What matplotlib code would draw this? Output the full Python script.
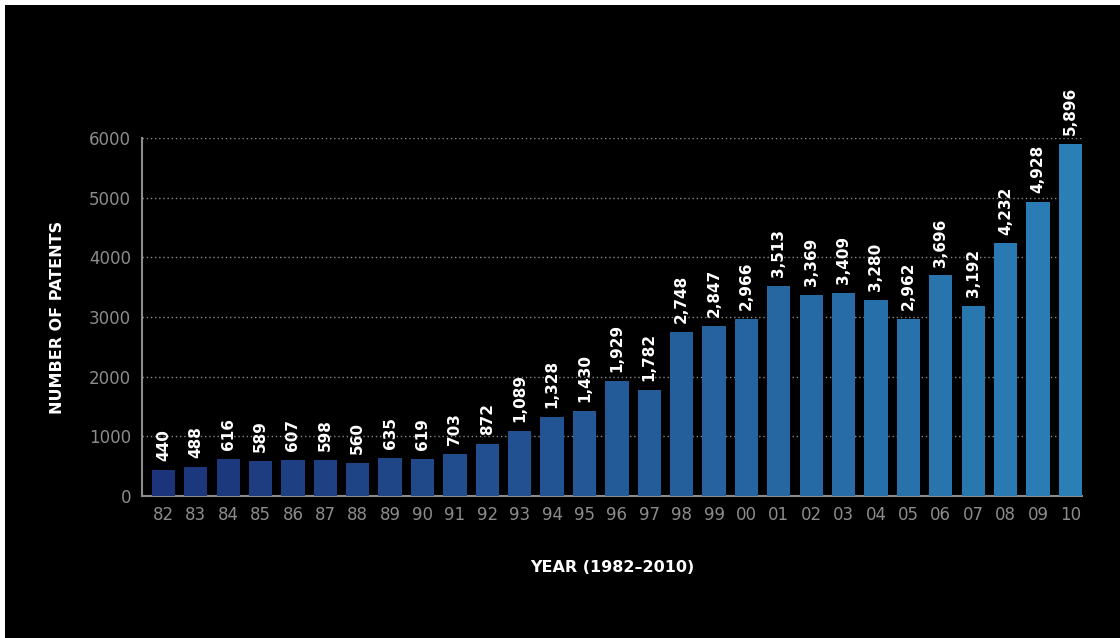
import matplotlib.pyplot as plt
import matplotlib.colors as mcolors
import numpy as np
from matplotlib.patches import Rectangle

years = ["82", "83", "84", "85", "86", "87", "88", "89", "90", "91", "92", "93", "94", "95",
         "96", "97", "98", "99", "00", "01", "02", "03", "04", "05", "06", "07", "08", "09", "10"]
patents = [440, 488, 616, 589, 607, 598, 560, 635, 619, 703, 872, 1089, 1328, 1430,
           1929, 1782, 2748, 2847, 2966, 3513, 3369, 3409, 3280, 2962, 3696, 3192, 4232, 4928, 5896]
yticks = [0, 1000, 2000, 3000, 4000, 5000, 6000]

plt.rcParams['font.family'] = ['DejaVu Sans']

fig = plt.figure(figsize=(11.2, 6.38), dpi=100)
fig.patch.set_facecolor('white')
# black panel, leaving the thin white strip on top and left
fig.patches.append(Rectangle((5 / 1120, 0), 1 - 5 / 1120, 1 - 5 / 638,
                             transform=fig.transFigure, facecolor='black',
                             edgecolor='none', zorder=-10))

ax = fig.add_axes([142 / 1120, 142 / 638, 940 / 1120, 358 / 638])
ax.set_facecolor('black')

# colour ramp from navy to lighter blue across the bars
c0 = np.array(mcolors.to_rgb('#1c3479'))
c1 = np.array(mcolors.to_rgb('#2a7fb6'))
n = len(years)
barColors = [c0 + (c1 - c0) * i / (n - 1) for i in range(n)]

x = np.arange(n)
ax.bar(x, patents, width=0.72, color=barColors, zorder=3)

for i, v in enumerate(patents):
    ax.text(i, v + 150, format(v, ','), rotation=90, ha='center', va='bottom',
            color='white', fontsize=11, fontweight='bold', zorder=4)

ax.set_xlim(-0.66, 28.36)
ax.set_ylim(0, 6000)
ax.set_xticks(x)
ax.set_xticklabels(years)
ax.set_yticks(yticks)
ax.set_yticklabels([str(t) for t in yticks])
ax.tick_params(axis='both', length=0, colors='#8c8c8c', labelsize=12)
ax.tick_params(axis='x', pad=7)
ax.tick_params(axis='y', pad=8)

ax.grid(axis='y', color='#8a8a8a', linestyle=(0, (1, 2)), linewidth=1, zorder=1)
ax.set_axisbelow(True)

for s in ['top', 'right']:
    ax.spines[s].set_visible(False)
for s in ['left', 'bottom']:
    ax.spines[s].set_color('#8c8c8c')
    ax.spines[s].set_linewidth(1.5)

ax.set_xlabel("YEAR (1982–2010)", color='white', fontsize=11.5, fontweight='bold', labelpad=26)
ax.set_ylabel("NUMBER OF PATENTS", color='white', fontsize=11.5, fontweight='bold', labelpad=17)

plt.savefig("out.png", dpi=100, facecolor=fig.get_facecolor())
